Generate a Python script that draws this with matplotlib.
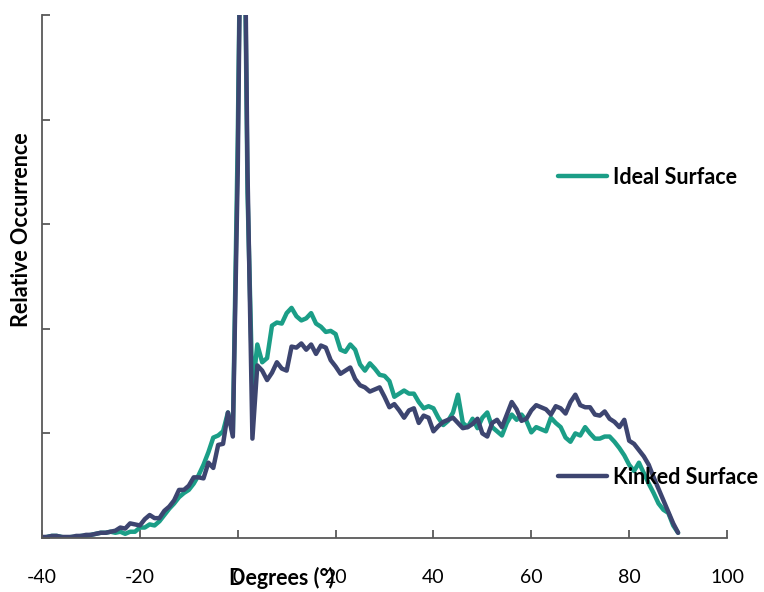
import matplotlib
matplotlib.use("Agg")
import matplotlib.pyplot as plt

plt.rcParams['font.family'] = ['Lato', 'DejaVu Sans']
plt.rcParams['axes.unicode_minus'] = False

# angle grid (degrees) and relative occurrence
degrees = list(range(-40, 91))

kinked = [0.01, 0.01, 0.02, 0.02, 0.01, 0.01, 0.01, 0.02, 0.02, 0.03,
          0.03, 0.04, 0.05, 0.05, 0.06, 0.07, 0.10, 0.09, 0.14, 0.13,
          0.12, 0.18, 0.22, 0.19, 0.19, 0.26, 0.30, 0.36, 0.46, 0.46,
          0.50, 0.58, 0.58, 0.57, 0.72, 0.67, 0.89, 0.90, 1.20, 0.97,
          3.50, 7.80, 3.50, 0.95, 1.65, 1.60, 1.51, 1.58, 1.68, 1.62,
          1.60, 1.83, 1.82, 1.86, 1.80, 1.85, 1.76, 1.84, 1.82, 1.70,
          1.64, 1.57, 1.60, 1.63, 1.52, 1.46, 1.44, 1.40, 1.42, 1.44,
          1.35, 1.25, 1.28, 1.22, 1.15, 1.22, 1.24, 1.10, 1.17, 1.15,
          1.02, 1.07, 1.11, 1.13, 1.15, 1.10, 1.05, 1.06, 1.09, 1.14,
          1.00, 0.97, 1.10, 1.13, 1.06, 1.18, 1.30, 1.23, 1.12, 1.14,
          1.22, 1.27, 1.25, 1.23, 1.18, 1.26, 1.24, 1.19, 1.30, 1.37,
          1.27, 1.25, 1.25, 1.18, 1.17, 1.21, 1.14, 1.11, 1.06, 1.13,
          0.93, 0.90, 0.84, 0.78, 0.70, 0.58, 0.47, 0.36, 0.25, 0.14,
          0.05]

ideal = [0.00, 0.01, 0.02, 0.02, 0.01, 0.00, 0.01, 0.01, 0.02, 0.02,
         0.03, 0.04, 0.05, 0.05, 0.06, 0.05, 0.06, 0.04, 0.06, 0.06,
         0.10, 0.10, 0.13, 0.12, 0.16, 0.22, 0.28, 0.33, 0.39, 0.43,
         0.46, 0.52, 0.60, 0.70, 0.82, 0.96, 0.98, 1.02, 1.20, 1.00,
         3.80, 7.60, 3.30, 1.40, 1.85, 1.68, 1.72, 2.03, 2.06, 2.05,
         2.15, 2.20, 2.12, 2.08, 2.10, 2.15, 2.05, 2.02, 1.97, 1.98,
         1.95, 1.80, 1.78, 1.85, 1.80, 1.66, 1.60, 1.67, 1.62, 1.56,
         1.55, 1.50, 1.35, 1.38, 1.41, 1.38, 1.38, 1.30, 1.24, 1.26,
         1.24, 1.15, 1.08, 1.12, 1.20, 1.37, 1.10, 1.06, 1.14, 1.05,
         1.15, 1.20, 1.06, 1.02, 0.98, 1.10, 1.18, 1.13, 1.18, 1.12,
         1.01, 1.06, 1.04, 1.02, 1.15, 1.10, 1.06, 0.96, 0.92, 1.00,
         0.98, 1.06, 1.00, 0.95, 0.95, 0.97, 0.97, 0.92, 0.86, 0.79,
         0.70, 0.64, 0.72, 0.62, 0.52, 0.43, 0.33, 0.27, 0.24, 0.12,
         0.05]

teal = '#1b9e87'
navy = '#3d4570'

fig = plt.figure(figsize=(7.64, 5.92), dpi=100)
ax = fig.add_axes([0.055, 0.0912, 0.8966, 0.8835])

l1, = ax.plot(degrees, ideal, color=teal, lw=3.2, solid_joinstyle='round',
              solid_capstyle='round', label='Ideal Surface')
l2, = ax.plot(degrees, kinked, color=navy, lw=3.2, solid_joinstyle='round',
              solid_capstyle='round', label='Kinked Surface')

ax.set_xlim(-40, 100)
ax.set_ylim(0, 5)
ax.set_xticks(range(-40, 101, 20))
ax.set_yticks(range(0, 6))
ax.set_yticklabels([])

for s in ['top', 'right']:
    ax.spines[s].set_visible(False)
for s in ['left', 'bottom']:
    ax.spines[s].set_color('#595959')
    ax.spines[s].set_linewidth(1.3)

ax.tick_params(axis='both', direction='in', length=6, width=1.3, color='#595959')
ax.tick_params(axis='x', labelsize=14, pad=22, labelcolor='black')

ax.set_xlabel('Degrees (°)', fontsize=15.5, fontweight='bold')
ax.xaxis.set_label_coords(0.35, -0.055)
ax.set_ylabel('Relative Occurrence', fontsize=15.5, fontweight='bold')
ax.yaxis.set_label_coords(-0.014, 0.59)

leg_kw = dict(loc='center left', bbox_transform=fig.transFigure, frameon=False,
              borderpad=0, borderaxespad=0, handlelength=2.3, handletextpad=0.28,
              prop={'size': 15.5, 'weight': 'bold'})
leg1 = ax.legend(handles=[l1], bbox_to_anchor=(0.730, 0.701), **leg_kw)
ax.add_artist(leg1)
ax.legend(handles=[l2], bbox_to_anchor=(0.730, 0.194), **leg_kw)

fig.savefig('out.png', dpi=100)
